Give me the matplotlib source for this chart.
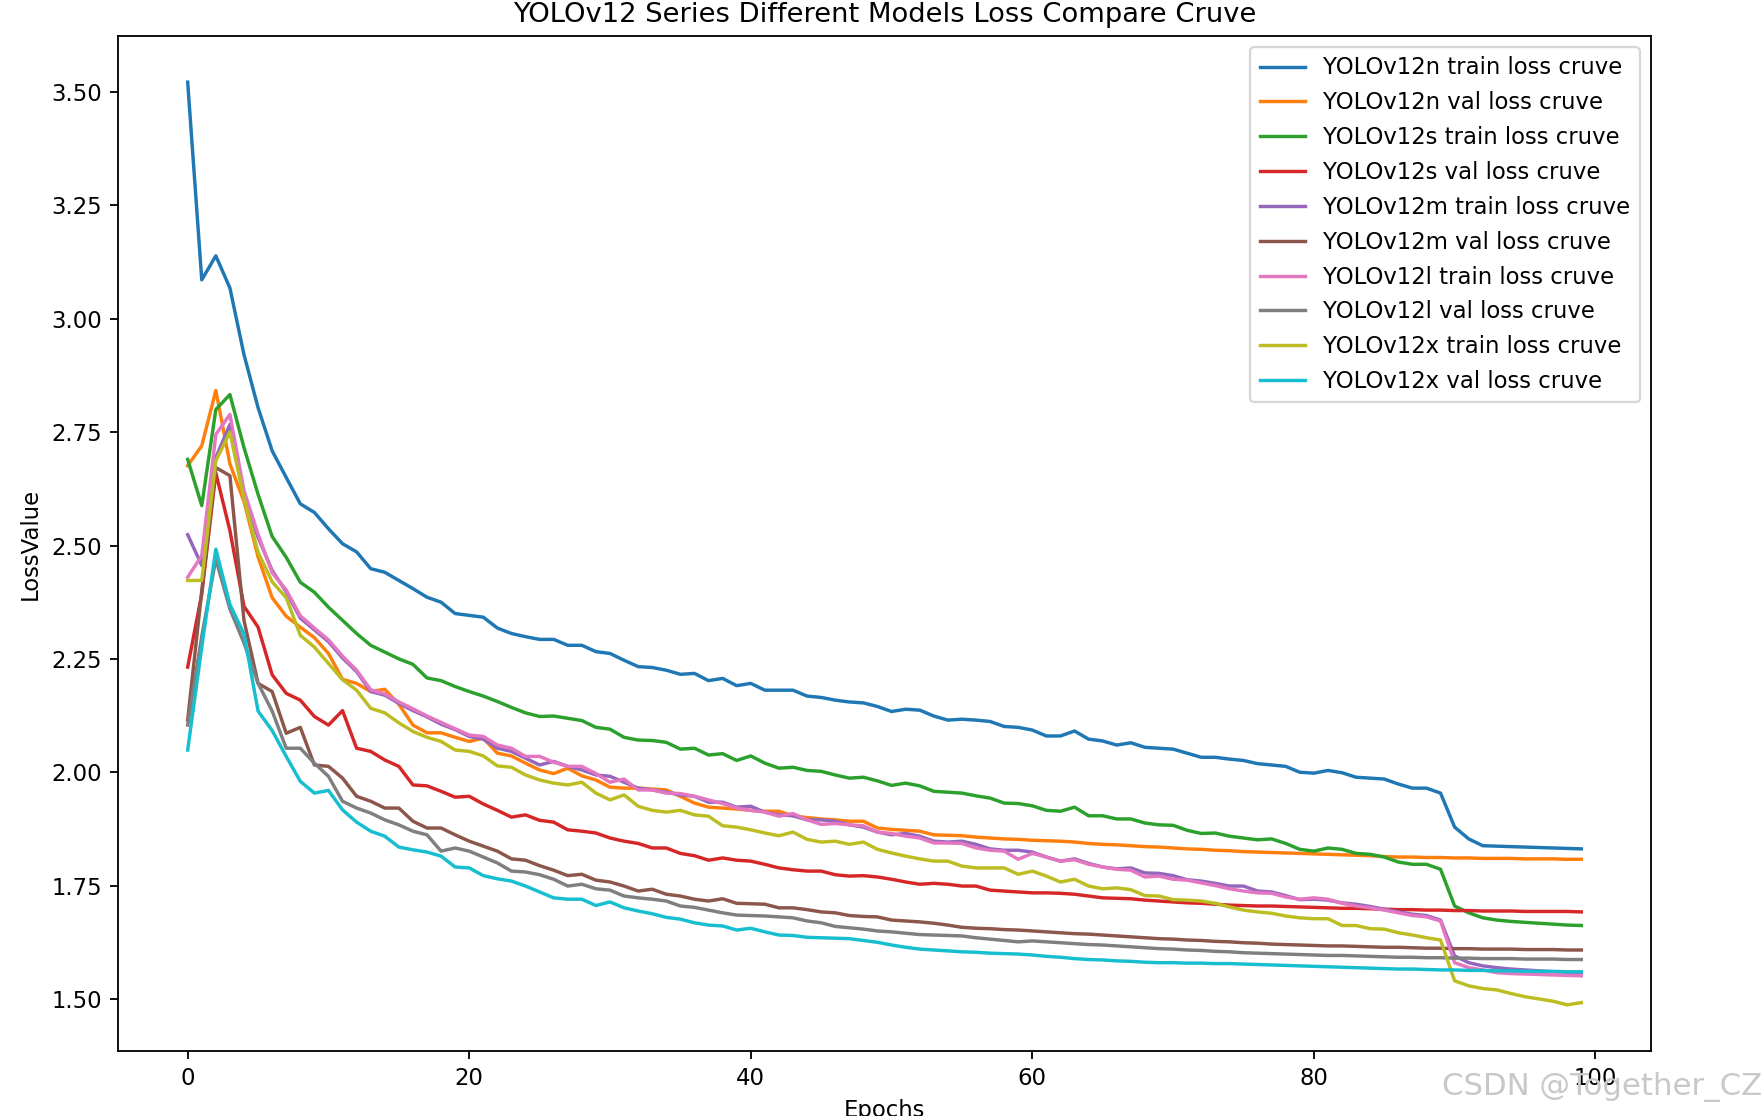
import matplotlib
matplotlib.use("Agg")
import matplotlib.pyplot as plt
import numpy as np

epochs = list(range(100))

n_train = [3.522, 3.086, 3.139, 3.068, 2.921, 2.804, 2.709, 2.650, 2.592, 2.573,
           2.537, 2.504, 2.486, 2.449, 2.441, 2.423, 2.405, 2.386, 2.375, 2.350,
           2.346, 2.342, 2.318, 2.306, 2.299, 2.293, 2.293, 2.280, 2.280, 2.266,
           2.262, 2.247, 2.233, 2.231, 2.225, 2.216, 2.218, 2.202, 2.207, 2.191,
           2.196, 2.181, 2.181, 2.181, 2.168, 2.165, 2.159, 2.155, 2.153, 2.145,
           2.134, 2.139, 2.137, 2.124, 2.115, 2.117, 2.115, 2.112, 2.101, 2.099,
           2.093, 2.080, 2.080, 2.091, 2.073, 2.069, 2.060, 2.065, 2.055, 2.053,
           2.051, 2.042, 2.033, 2.033, 2.029, 2.026, 2.019, 2.016, 2.013, 2.000,
           1.998, 2.004, 1.999, 1.989, 1.987, 1.985, 1.974, 1.965, 1.965, 1.954,
           1.879, 1.853, 1.838, 1.837, 1.836, 1.835, 1.834, 1.833, 1.832, 1.831]

n_val = [2.676, 2.720, 2.842, 2.680, 2.597, 2.475, 2.385, 2.344, 2.320, 2.297,
         2.262, 2.205, 2.196, 2.178, 2.183, 2.150, 2.104, 2.087, 2.087, 2.077,
         2.068, 2.075, 2.042, 2.036, 2.020, 2.005, 1.997, 2.009, 1.992, 1.983,
         1.967, 1.965, 1.965, 1.963, 1.961, 1.947, 1.932, 1.923, 1.921, 1.919,
         1.916, 1.914, 1.914, 1.904, 1.900, 1.897, 1.895, 1.892, 1.892, 1.877,
         1.874, 1.872, 1.870, 1.862, 1.861, 1.860, 1.857, 1.855, 1.853, 1.852,
         1.850, 1.849, 1.848, 1.846, 1.843, 1.841, 1.840, 1.838, 1.836, 1.835,
         1.833, 1.831, 1.830, 1.828, 1.827, 1.825, 1.824, 1.823, 1.822, 1.821,
         1.820, 1.819, 1.818, 1.817, 1.816, 1.814, 1.813, 1.813, 1.812, 1.812,
         1.811, 1.811, 1.810, 1.810, 1.810, 1.809, 1.809, 1.809, 1.808, 1.808]

s_train = [2.690, 2.588, 2.800, 2.833, 2.716, 2.613, 2.520, 2.474, 2.419, 2.397,
           2.364, 2.335, 2.306, 2.280, 2.265, 2.250, 2.238, 2.208, 2.202, 2.189,
           2.178, 2.168, 2.156, 2.143, 2.131, 2.123, 2.124, 2.119, 2.114, 2.099,
           2.095, 2.077, 2.071, 2.070, 2.066, 2.051, 2.053, 2.038, 2.041, 2.026,
           2.036, 2.020, 2.009, 2.011, 2.004, 2.002, 1.994, 1.987, 1.989, 1.981,
           1.971, 1.976, 1.970, 1.958, 1.956, 1.954, 1.948, 1.943, 1.932, 1.931,
           1.926, 1.916, 1.914, 1.923, 1.904, 1.904, 1.897, 1.897, 1.888, 1.884,
           1.883, 1.872, 1.865, 1.866, 1.859, 1.855, 1.851, 1.853, 1.843, 1.830,
           1.826, 1.833, 1.830, 1.821, 1.819, 1.813, 1.802, 1.797, 1.797, 1.786,
           1.705, 1.690, 1.679, 1.674, 1.671, 1.669, 1.667, 1.665, 1.663, 1.662]

s_val = [2.232, 2.393, 2.660, 2.533, 2.366, 2.320, 2.215, 2.174, 2.159, 2.123,
         2.104, 2.136, 2.053, 2.046, 2.027, 2.013, 1.972, 1.970, 1.958, 1.945,
         1.947, 1.930, 1.916, 1.901, 1.906, 1.894, 1.890, 1.873, 1.870, 1.866,
         1.855, 1.848, 1.843, 1.833, 1.833, 1.821, 1.816, 1.806, 1.811, 1.806,
         1.804, 1.797, 1.789, 1.785, 1.782, 1.782, 1.774, 1.771, 1.772, 1.769,
         1.764, 1.758, 1.753, 1.755, 1.753, 1.749, 1.749, 1.740, 1.738, 1.736,
         1.734, 1.734, 1.733, 1.731, 1.727, 1.723, 1.722, 1.721, 1.718, 1.716,
         1.714, 1.712, 1.711, 1.709, 1.707, 1.706, 1.705, 1.705, 1.704, 1.703,
         1.702, 1.701, 1.700, 1.700, 1.699, 1.698, 1.697, 1.697, 1.696, 1.696,
         1.695, 1.695, 1.694, 1.694, 1.694, 1.693, 1.693, 1.693, 1.693, 1.692]

m_train = [2.524, 2.456, 2.694, 2.767, 2.608, 2.518, 2.445, 2.398, 2.340, 2.314,
           2.288, 2.252, 2.222, 2.178, 2.170, 2.152, 2.136, 2.122, 2.106, 2.094,
           2.079, 2.073, 2.053, 2.046, 2.031, 2.016, 2.024, 2.013, 2.005, 1.994,
           1.991, 1.978, 1.965, 1.961, 1.956, 1.950, 1.947, 1.934, 1.934, 1.923,
           1.925, 1.912, 1.906, 1.904, 1.895, 1.895, 1.892, 1.884, 1.879, 1.868,
           1.862, 1.865, 1.859, 1.848, 1.846, 1.848, 1.841, 1.831, 1.828, 1.828,
           1.824, 1.813, 1.804, 1.809, 1.799, 1.791, 1.787, 1.789, 1.778, 1.777,
           1.772, 1.763, 1.760, 1.755, 1.749, 1.749, 1.738, 1.736, 1.728, 1.719,
           1.720, 1.718, 1.712, 1.709, 1.704, 1.698, 1.692, 1.687, 1.684, 1.674,
           1.595, 1.580, 1.573, 1.569, 1.566, 1.564, 1.562, 1.560, 1.559, 1.558]

m_val = [2.115, 2.400, 2.672, 2.654, 2.335, 2.196, 2.178, 2.086, 2.099, 2.016,
         2.013, 1.987, 1.947, 1.936, 1.921, 1.921, 1.892, 1.877, 1.877, 1.862,
         1.848, 1.837, 1.826, 1.809, 1.806, 1.794, 1.784, 1.772, 1.775, 1.762,
         1.758, 1.749, 1.738, 1.742, 1.731, 1.727, 1.720, 1.716, 1.721, 1.711,
         1.710, 1.709, 1.701, 1.701, 1.697, 1.692, 1.690, 1.684, 1.682, 1.681,
         1.674, 1.672, 1.670, 1.667, 1.663, 1.658, 1.656, 1.655, 1.653, 1.652,
         1.650, 1.648, 1.646, 1.644, 1.643, 1.641, 1.639, 1.637, 1.635, 1.633,
         1.632, 1.630, 1.629, 1.627, 1.626, 1.624, 1.623, 1.621, 1.620, 1.619,
         1.618, 1.617, 1.617, 1.616, 1.615, 1.614, 1.614, 1.613, 1.612, 1.612,
         1.611, 1.611, 1.610, 1.610, 1.610, 1.609, 1.609, 1.609, 1.608, 1.608]

l_train = [2.430, 2.478, 2.745, 2.789, 2.621, 2.525, 2.440, 2.402, 2.345, 2.318,
           2.292, 2.256, 2.225, 2.182, 2.173, 2.155, 2.140, 2.124, 2.110, 2.096,
           2.082, 2.079, 2.060, 2.053, 2.035, 2.035, 2.022, 2.013, 2.013, 1.997,
           1.978, 1.985, 1.961, 1.961, 1.954, 1.953, 1.947, 1.939, 1.931, 1.921,
           1.916, 1.912, 1.903, 1.909, 1.895, 1.885, 1.887, 1.884, 1.882, 1.868,
           1.865, 1.859, 1.855, 1.844, 1.844, 1.843, 1.833, 1.828, 1.826, 1.808,
           1.821, 1.813, 1.804, 1.807, 1.797, 1.791, 1.786, 1.784, 1.769, 1.771,
           1.764, 1.762, 1.756, 1.750, 1.743, 1.738, 1.734, 1.733, 1.725, 1.720,
           1.723, 1.720, 1.711, 1.705, 1.701, 1.696, 1.690, 1.684, 1.681, 1.672,
           1.580, 1.569, 1.564, 1.558, 1.556, 1.555, 1.554, 1.553, 1.552, 1.551]

l_val = [2.104, 2.300, 2.470, 2.360, 2.285, 2.196, 2.135, 2.053, 2.053, 2.020,
         1.991, 1.936, 1.921, 1.910, 1.895, 1.884, 1.870, 1.862, 1.826, 1.833,
         1.826, 1.813, 1.800, 1.782, 1.780, 1.774, 1.764, 1.749, 1.753, 1.743,
         1.740, 1.727, 1.723, 1.720, 1.716, 1.705, 1.702, 1.696, 1.690, 1.685,
         1.684, 1.683, 1.681, 1.679, 1.672, 1.668, 1.660, 1.657, 1.654, 1.650,
         1.648, 1.645, 1.642, 1.641, 1.640, 1.639, 1.635, 1.632, 1.629, 1.626,
         1.628, 1.626, 1.624, 1.622, 1.620, 1.619, 1.617, 1.615, 1.613, 1.611,
         1.610, 1.608, 1.607, 1.605, 1.604, 1.602, 1.601, 1.600, 1.599, 1.598,
         1.597, 1.596, 1.596, 1.595, 1.594, 1.593, 1.592, 1.592, 1.591, 1.591,
         1.590, 1.590, 1.589, 1.589, 1.589, 1.588, 1.588, 1.588, 1.587, 1.587]

x_train = [2.423, 2.423, 2.687, 2.750, 2.604, 2.485, 2.420, 2.385, 2.302, 2.276,
           2.240, 2.204, 2.181, 2.141, 2.131, 2.109, 2.090, 2.077, 2.068, 2.049,
           2.046, 2.036, 2.014, 2.011, 1.994, 1.983, 1.976, 1.972, 1.978, 1.954,
           1.939, 1.950, 1.925, 1.916, 1.912, 1.916, 1.906, 1.903, 1.882, 1.879,
           1.873, 1.866, 1.860, 1.868, 1.852, 1.846, 1.848, 1.841, 1.846, 1.830,
           1.822, 1.815, 1.809, 1.804, 1.804, 1.793, 1.789, 1.789, 1.789, 1.775,
           1.782, 1.771, 1.758, 1.764, 1.749, 1.743, 1.745, 1.741, 1.728, 1.727,
           1.719, 1.718, 1.716, 1.711, 1.703, 1.696, 1.692, 1.689, 1.683, 1.679,
           1.677, 1.677, 1.662, 1.662, 1.655, 1.654, 1.646, 1.641, 1.635, 1.630,
           1.540, 1.529, 1.523, 1.520, 1.512, 1.505, 1.500, 1.495, 1.487, 1.492]

x_val = [2.049, 2.276, 2.492, 2.370, 2.305, 2.135, 2.092, 2.035, 1.980, 1.954,
         1.960, 1.917, 1.890, 1.870, 1.859, 1.835, 1.829, 1.824, 1.815, 1.791,
         1.789, 1.772, 1.765, 1.760, 1.749, 1.736, 1.723, 1.720, 1.720, 1.706,
         1.714, 1.701, 1.694, 1.688, 1.680, 1.676, 1.668, 1.663, 1.661, 1.652,
         1.656, 1.648, 1.641, 1.640, 1.636, 1.635, 1.634, 1.633, 1.629, 1.625,
         1.619, 1.614, 1.610, 1.608, 1.606, 1.604, 1.603, 1.601, 1.600, 1.599,
         1.597, 1.594, 1.592, 1.589, 1.587, 1.586, 1.584, 1.583, 1.581, 1.580,
         1.580, 1.579, 1.579, 1.578, 1.578, 1.577, 1.576, 1.575, 1.574, 1.573,
         1.572, 1.571, 1.570, 1.569, 1.568, 1.567, 1.566, 1.566, 1.565, 1.564,
         1.564, 1.563, 1.563, 1.562, 1.562, 1.561, 1.561, 1.561, 1.560, 1.560]

labels = ["YOLOv12n train loss cruve", "YOLOv12n val loss cruve",
          "YOLOv12s train loss cruve", "YOLOv12s val loss cruve",
          "YOLOv12m train loss cruve", "YOLOv12m val loss cruve",
          "YOLOv12l train loss cruve", "YOLOv12l val loss cruve",
          "YOLOv12x train loss cruve", "YOLOv12x val loss cruve"]
series = [n_train, n_val, s_train, s_val, m_train, m_val, l_train, l_val, x_train, x_val]

DPI = 164
fig = plt.figure(figsize=(1764 / DPI, 1116 / DPI), dpi=DPI)
ax = fig.add_axes([118 / 1764, 1 - 1051 / 1116, (1651 - 118) / 1764, (1051 - 36) / 1116])

for ys, lab in zip(series, labels):
    ax.plot(epochs, ys, label=lab)

ax.set_title("YOLOv12 Series Different Models Loss Compare Cruve")
ax.set_xlabel("Epochs")
ax.set_ylabel("LossValue")
ax.legend(loc="upper right", labelspacing=0.52)

fig.text(1602 / 1764, 1 - 1087 / 1116, "CSDN @Together_CZ", color="#c8c8c8",
         fontsize=13.5, ha="center", va="center")

fig.savefig("out.png", dpi=DPI)
